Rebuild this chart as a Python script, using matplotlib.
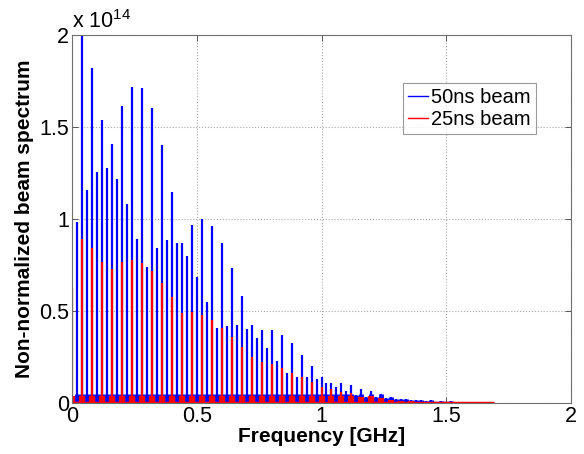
"""
Beam spectrum comparison: 50ns vs 25ns bunch spacing (MATLAB-style look).
"""

import numpy as np
import matplotlib
matplotlib.use('Agg')
import matplotlib.pyplot as plt

plt.rcParams.update({
    'font.family':      ['Liberation Sans', 'DejaVu Sans'],
    'mathtext.fontset': 'custom',
    'mathtext.rm':      'Liberation Sans',
    'figure.facecolor': 'white',
    'axes.facecolor':   'white',
})

# ── Data (amplitudes in units of 1e14) ───────────────────────────────────────
freq_50ns = np.round(np.arange(1, 77) * 0.02, 2)          # 20 MHz harmonics
amp_50ns = [
    0.985, 2.000, 1.158, 1.822, 1.257, 1.538, 1.275, 1.406, 1.216, 1.614,
    1.080, 1.719, 0.890, 1.712, 0.737, 1.602, 0.842, 1.402, 0.886, 1.145,
    0.868, 0.868, 0.799, 0.967, 0.686, 1.000, 0.550, 0.962, 0.406, 0.868,
    0.418, 0.735, 0.424, 0.580, 0.400, 0.424, 0.355, 0.397, 0.297, 0.397,
    0.228, 0.370, 0.165, 0.324, 0.140, 0.261, 0.140, 0.201, 0.129, 0.143,
    0.107, 0.107, 0.085, 0.107, 0.067, 0.098, 0.043, 0.074, 0.031, 0.067,
    0.031, 0.047, 0.025, 0.031, 0.020, 0.020, 0.020, 0.018, 0.014, 0.014,
    0.011, 0.014, 0.007, 0.011, 0.007, 0.011,
]

freq_25ns = np.round(np.arange(0, 38) * 0.04, 2)          # 40 MHz harmonics
amp_25ns = [
    0.623, 0.890, 0.840, 0.768, 0.726, 0.765, 0.777, 0.759, 0.717, 0.654,
    0.578, 0.489, 0.496, 0.478, 0.451, 0.410, 0.357, 0.303, 0.248, 0.225,
    0.212, 0.188, 0.165, 0.140, 0.116, 0.085, 0.074, 0.061, 0.053, 0.034,
    0.038, 0.027, 0.015, 0.012, 0.010, 0.008, 0.006, 0.005,
]
RED_SPAN_END = 1.69     # where the 25ns spectrum trace stops (GHz)

BLUE = '#0000ff'
RED = '#ff0000'
FOOT = 0.05             # height of the low-level sideband "foot" drawn at each line

# ── Figure ───────────────────────────────────────────────────────────────────
fig = plt.figure(figsize=(5.84, 4.54), dpi=100)
ax = fig.add_axes([72 / 584, 1 - 403 / 454, 499 / 584, 368 / 454])

amp_b = np.array(amp_50ns)
amp_r = np.array(amp_25ns)

# 50ns beam
ax.plot([0, freq_50ns[-1]], [0, 0], color=BLUE, lw=2.5, solid_capstyle='butt')
ax.vlines(freq_50ns, 0, amp_b, color=BLUE, lw=1.6)
ax.vlines(freq_50ns, 0, np.minimum(amp_b, FOOT), color=BLUE, lw=3.5)
ax.plot([], [], color=BLUE, lw=1.0, label='50ns beam')

# 25ns beam
ax.plot([0, RED_SPAN_END], [0, 0], color=RED, lw=2.5, solid_capstyle='butt')
ax.vlines(freq_25ns, 0, amp_r, color=RED, lw=1.6)
ax.vlines(freq_25ns, 0, np.minimum(amp_r, FOOT * 0.8), color=RED, lw=4.5)
ax.plot([], [], color=RED, lw=1.0, label='25ns beam')

ax.set_xlim(0, 2)
ax.set_ylim(0, 2)
ax.set_xticks([0, 0.5, 1, 1.5, 2])
ax.set_yticks([0, 0.5, 1, 1.5, 2])
ax.set_xticklabels(['0', '0.5', '1', '1.5', '2'])
ax.set_yticklabels(['0', '0.5', '1', '1.5', '2'])
ax.tick_params(direction='in', length=4, width=0.6, labelsize=15.5, pad=2,
               top=True, right=True, color='#404040')
ax.tick_params(axis='x', pad=2)
ax.grid(True, linestyle=':', color='#a8a8a8', lw=0.8)
ax.set_axisbelow(True)
for sp in ax.spines.values():
    sp.set_color('#707070')
    sp.set_linewidth(0.8)

ax.text(0.0, 1.005, r'x 10$^{14}$', transform=ax.transAxes,
        ha='left', va='bottom', fontsize=15.5)

ax.set_xlabel('Frequency [GHz]', fontsize=15, fontweight='bold', labelpad=0)
ax.set_ylabel('Non-normalized beam spectrum', fontsize=15, fontweight='bold',
              labelpad=4)

leg = ax.legend(loc='upper left', bbox_to_anchor=(331 / 499, 1 - 48 / 368),
                fontsize=14.5, handlelength=1.0, handletextpad=0.15,
                borderpad=0.25, labelspacing=0.15, borderaxespad=0,
                frameon=True, fancybox=False)
leg.get_frame().set_edgecolor('#808080')
leg.get_frame().set_linewidth(0.8)

fig.savefig('out.png', dpi=100, facecolor='white')
